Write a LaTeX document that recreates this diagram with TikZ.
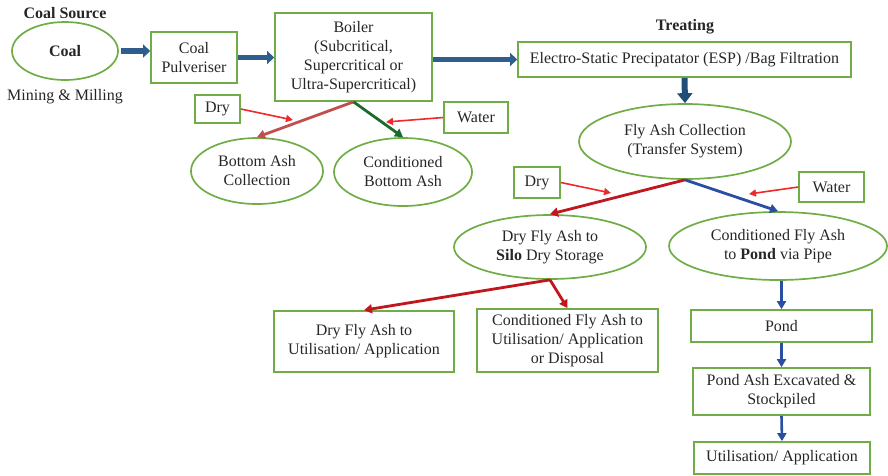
\documentclass[tikz,border=0pt]{standalone}
\usepackage{fontspec}
\setmainfont{Liberation Serif}
\usetikzlibrary{shapes.geometric,arrows.meta}
\definecolor{boxgreen}{HTML}{70AD47}
\definecolor{steel}{HTML}{2F5E8E}
\definecolor{navy}{HTML}{1F4E79}
\definecolor{thinred}{HTML}{EE2A2A}
\definecolor{darkred}{HTML}{C0161E}
\definecolor{flowblue}{HTML}{2A4EA3}
\definecolor{darkgreen}{HTML}{1C6B2C}
\definecolor{brick}{HTML}{C0504D}
\begin{document}
\begin{tikzpicture}[x=1pt,y=-1pt,
  every node/.style={font=\fontsize{16}{19}\selectfont, text=black!85},
  stagebox/.style={draw=boxgreen, line width=1.7pt, rectangle, align=center, inner sep=0pt},
  stageoval/.style={draw=boxgreen, line width=1.7pt, ellipse, align=center, inner sep=0pt},
  bigarrow/.style={draw=steel, line width=5.5pt, -{Triangle[length=7pt,width=13pt]}},
  downarrow/.style={draw=navy, line width=6pt, -{Triangle[length=10pt,width=15pt]}},
  addarrow/.style={draw=thinred, line width=1.6pt, -{Triangle[length=7pt,width=7pt]}},
  flow/.style={line width=2.8pt, -{Triangle[length=8pt,width=9pt]}},
  smallflow/.style={draw=flowblue, line width=2.6pt, -{Triangle[length=8pt,width=9pt]}}
]
\useasboundingbox (0,0) rectangle (888,475);

% coal source
\node (srctitle) at (65,13) {\textbf{Coal Source}};
\node[stageoval, minimum width=106pt, minimum height=58pt] (coal) at (65,51) {\textbf{Coal}};
\node (mining) at (65,97) {Mining \& Milling};

% combustion chain
\node[stagebox, minimum width=86pt, minimum height=51pt] (pulv) at (194,57.5) {Coal\\Pulveriser};
\node[stagebox, minimum width=157pt, minimum height=88pt] (boiler) at (353.5,57) {Boiler\\(Subcritical,\\Supercritical or\\Ultra-Supercritical)};
\node (treat) at (685,27) {\textbf{Treating}};
\node[stagebox, minimum width=333pt, minimum height=35pt] (esp) at (684.5,59.5) {Electro-Static Precipatator (ESP) /Bag Filtration};

\draw[bigarrow] (coal.east) ++(2,0) coordinate (c1) -- (pulv.west |- c1);
\draw[bigarrow] (pulv.east) -- (boiler.west |- pulv.east);
\draw[bigarrow] (boiler.east |- esp.west) -- (esp.west);

% bottom ash
\node[stagebox, minimum width=45pt, minimum height=28pt] (dry1) at (217.5,109) {Dry};
\node[stagebox, minimum width=64pt, minimum height=31pt] (water1) at (476,117.5) {Water};
\node[stageoval, minimum width=132pt, minimum height=66pt] (bash) at (257,171) {Bottom Ash\\Collection};
\node[stageoval, minimum width=138pt, minimum height=68pt] (cbash) at (403,172) {Conditioned\\Bottom Ash};
\coordinate (dry1end) at (293,120);
\coordinate (water1end) at (386,122);
\draw[addarrow] (dry1.east) -- (dry1end);
\draw[addarrow] (water1.west) -- (water1end);
\draw[flow, draw=brick] (boiler.south) -- (bash.north);
\draw[flow, draw=darkgreen] (boiler.south) -- (cbash.north);

% fly ash
\node[stageoval, minimum width=212pt, minimum height=75pt] (fly) at (685,141.5) {Fly Ash Collection\\(Transfer System)};
\draw[downarrow] (esp.south) -- (fly.north);

\node[stagebox, minimum width=46pt, minimum height=31pt] (dry2) at (537,182.5) {Dry};
\node[stagebox, minimum width=65pt, minimum height=30pt] (water2) at (831.5,187) {Water};
\coordinate (dry2end) at (611,193);
\coordinate (water2end) at (749,194);
\draw[addarrow] (dry2.east) -- (dry2end);
\draw[addarrow] (water2.west) -- (water2end);

\node[stageoval, minimum width=192pt, minimum height=64pt] (silo) at (550,247) {Dry Fly Ash to\\\textbf{Silo} Dry Storage};
\node[stageoval, minimum width=218pt, minimum height=68pt] (pondpipe) at (778,246) {Conditioned Fly Ash\\to \textbf{Pond} via Pipe};
\draw[flow, draw=darkred] (fly.south) -- (silo.north);
\draw[flow, draw=flowblue] (fly.south) -- (pondpipe.north);

% dry storage outlets
\node[stagebox, minimum width=180pt, minimum height=61pt] (dryuse) at (364,341.5) {Dry Fly Ash to\\Utilisation/ Application};
\node[stagebox, minimum width=181pt, minimum height=63pt] (conduse) at (567.5,340.5) {Conditioned Fly Ash to\\Utilisation/ Application\\or Disposal};
\draw[flow, draw=darkred] (silo.south) -- (dryuse.north);
\draw[flow, draw=darkred] (silo.south) -- (conduse.north);

% pond route
\node[stagebox, minimum width=181pt, minimum height=32pt] (pond) at (781.5,326) {Pond};
\node[stagebox, minimum width=177pt, minimum height=47pt] (excav) at (781.5,391.5) {Pond Ash Excavated \&\\Stockpiled};
\node[stagebox, minimum width=176pt, minimum height=32pt] (ponduse) at (782,458) {Utilisation/ Application};
\draw[smallflow] (pondpipe.south -| pond.north) -- (pond.north);
\draw[smallflow] (pond.south) -- (excav.north);
\draw[smallflow] (excav.south) -- (ponduse.north);
\end{tikzpicture}
\end{document}
